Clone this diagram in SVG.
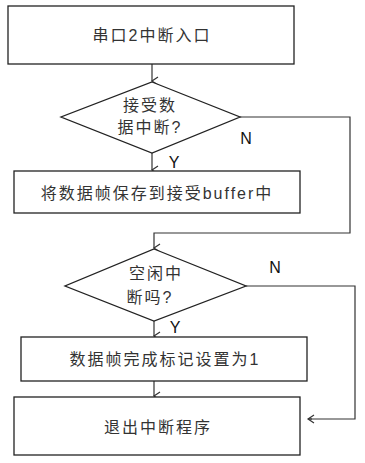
<svg xmlns="http://www.w3.org/2000/svg" width="365" height="463" viewBox="0 0 365 463">
<style>
.box{fill:#fff;stroke:#222;stroke-width:1.3}
.ln{fill:none;stroke:#333;stroke-width:1.2}
.t{font-family:"Liberation Sans","Noto Sans CJK SC",sans-serif;font-size:16px;fill:#333;text-anchor:middle;dominant-baseline:central;letter-spacing:2px}
.lb{font-family:"Liberation Sans",sans-serif;font-size:16px;fill:#111;text-anchor:middle;dominant-baseline:central}
</style>
<defs>
<marker id="a" markerWidth="10" markerHeight="10" refX="5" refY="8" orient="auto-start-reverse" markerUnits="userSpaceOnUse" viewBox="0 0 10 10">
<polyline points="1,2 5,8 9,2" fill="none" stroke="#333" stroke-width="1.2"/>
</marker>
<marker id="b" markerWidth="10" markerHeight="10" refX="2" refY="5" orient="0" markerUnits="userSpaceOnUse" viewBox="0 0 10 10">
<polyline points="8,1 2,5 8,9" fill="none" stroke="#333" stroke-width="1.2"/>
</marker>
</defs>
<g id="connectors">
<line class="ln" x1="152" y1="64" x2="152" y2="81" marker-end="url(#a)"/>
<line class="ln" x1="152" y1="153" x2="152" y2="170" marker-end="url(#a)"/>
<polyline class="ln" points="240,117 350,117 350,233 154,233 154,248" marker-end="url(#a)"/>
<line class="ln" x1="154" y1="321" x2="154" y2="336" marker-end="url(#a)"/>
<line class="ln" x1="154" y1="381" x2="154" y2="396" marker-end="url(#a)"/>
<polyline class="ln" points="246,286 355,286 355,419 309,419"/>
<line class="ln" x1="312" y1="419" x2="308" y2="419" marker-end="url(#b)"/>
<text class="lb" x="246" y="138">N</text>
<text class="lb" x="174" y="162">Y</text>
<text class="lb" x="275" y="267">N</text>
<text class="lb" x="175" y="327">Y</text>
</g>
<g id="n1"><rect class="box" x="8" y="6" width="286" height="58"/><text class="t" x="152" y="35">串口2中断入口</text></g>
<g id="n2"><polygon class="box" points="152,82 240,117 152,153 61,117"/><text class="t" x="150" y="105">接受数</text><text class="t" x="150" y="127">据中断?</text></g>
<g id="n3"><rect class="box" x="14" y="171" width="286" height="42"/><text class="t" x="157" y="193">将数据帧保存到接受buffer中</text></g>
<g id="n4"><polygon class="box" points="154,249 246,286 154,321 65,286"/><text class="t" x="156" y="273">空闲中</text><text class="t" x="150" y="297">断吗?</text></g>
<g id="n5"><rect class="box" x="21" y="337" width="286" height="44"/><text class="t" x="165" y="359">数据帧完成标记设置为1</text></g>
<g id="n6"><rect class="box" x="14" y="397" width="286" height="58"/><text class="t" x="158" y="427">退出中断程序</text></g>
</svg>
